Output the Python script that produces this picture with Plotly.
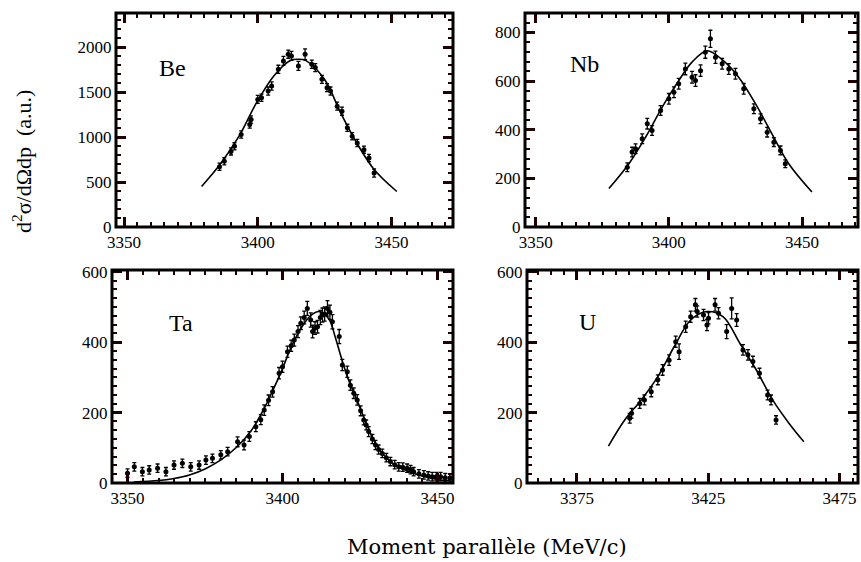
import plotly.graph_objects as go

# ---------------- data ----------------
be_x = [3385.7, 3387.5, 3390.0, 3391.3, 3393.8, 3397.0, 3397.5, 3400.0, 3401.4, 3403.9,
        3405.2, 3407.7, 3409.6, 3411.4, 3412.6, 3415.2, 3417.7, 3420.2, 3421.5, 3424.0,
        3425.9, 3427.2, 3429.7, 3431.5, 3433.5, 3435.3, 3437.2, 3439.7, 3441.6, 3443.5]
be_y = [670, 730, 841, 897, 1028, 1140, 1196, 1419, 1438, 1512,
        1568, 1754, 1847, 1922, 1903, 1791, 1922, 1810, 1773, 1642,
        1550, 1512, 1344, 1288, 1103, 1009, 935, 860, 768, 600]
be_err = [40, 40, 40, 40, 40, 40, 40, 45, 40, 45,
          45, 45, 50, 45, 50, 50, 60, 45, 45, 45,
          45, 45, 45, 45, 40, 40, 40, 40, 40, 45]
be_fit_x = [3379, 3386, 3393, 3399.5, 3406, 3412, 3415, 3418, 3425, 3431, 3437, 3443.5, 3452]
be_fit_y = [450, 700, 1010, 1380, 1680, 1850, 1865, 1850, 1640, 1270, 935, 640, 395]

nb_x = [3384.4, 3386.2, 3387.5, 3390.0, 3391.9, 3393.7, 3396.9, 3400.0, 3401.9, 3403.7,
        3406.2, 3408.7, 3410.0, 3411.9, 3413.7, 3415.6, 3417.5, 3420.0, 3422.5, 3425.0,
        3428.1, 3431.9, 3434.4, 3436.9, 3439.4, 3441.9, 3443.7]
nb_y = [246, 308, 322, 363, 425, 397, 479, 527, 554, 589,
        650, 616, 602, 643, 719, 774, 698, 671, 650, 630,
        568, 486, 445, 390, 349, 315, 260]
nb_err = [18, 20, 20, 20, 22, 20, 20, 22, 22, 22,
          24, 24, 24, 24, 25, 35, 25, 22, 22, 22,
          22, 20, 20, 20, 18, 18, 16]
nb_fit_x = [3377.5, 3385, 3391.3, 3397.5, 3403.7, 3408.7, 3414.4, 3420, 3426.2, 3432.5, 3438.7, 3445, 3453.7]
nb_fit_y = [158, 260, 370, 493, 602, 678, 725, 688, 616, 507, 383, 260, 144]

ta_x = [3350.0, 3352.2, 3354.8, 3357.0, 3359.7, 3362.4, 3365.0, 3367.7, 3370.4, 3373.1,
        3375.3, 3377.4, 3380.1, 3382.3, 3385.5, 3387.6, 3389.3, 3391.4, 3393.0, 3394.1,
        3395.5, 3396.8, 3398.9, 3400.0, 3401.6, 3402.8, 3403.8, 3405.0, 3405.9, 3407.0,
        3408.0, 3409.1, 3409.7, 3410.5, 3411.3, 3412.2, 3412.9, 3413.6, 3414.5, 3415.3,
        3416.1, 3418.3, 3419.3, 3420.9, 3421.9, 3423.0, 3424.1, 3425.2, 3426.2, 3427.0,
        3427.8, 3429.0, 3430.0, 3431.0, 3432.2, 3433.5, 3434.8, 3436.2, 3437.5, 3438.8,
        3440.2, 3441.3, 3442.3, 3444.0, 3445.6, 3447.0, 3448.3, 3449.6, 3451.0, 3452.5,
        3454.0]
ta_y = [28, 46, 32, 37, 42, 32, 51, 56, 46, 51,
        65, 70, 80, 89, 117, 108, 132, 160, 180, 207,
        235, 259, 312, 330, 373, 390, 406, 430, 454, 470,
        496, 463, 430, 440, 444, 470, 477, 480, 496, 485,
        458, 416, 335, 316, 278, 255, 236, 205, 179, 165,
        146, 125, 108, 95, 84, 72, 61, 52, 46, 45,
        42, 38, 32, 26, 23, 20, 18, 18, 18, 15,
        14]
ta_err = [12, 12, 12, 12, 12, 12, 12, 12, 12, 12,
          12, 12, 12, 12, 14, 14, 14, 14, 14, 15,
          15, 15, 16, 16, 16, 16, 17, 17, 18, 18,
          20, 20, 18, 18, 18, 20, 20, 20, 22, 20,
          20, 20, 16, 16, 15, 15, 15, 14, 14, 14,
          14, 13, 13, 13, 12, 12, 12, 12, 12, 12,
          12, 12, 12, 12, 12, 12, 12, 12, 12, 12,
          12]
ta_fit_x = [3352, 3360, 3365, 3370, 3375, 3380, 3385, 3390, 3394, 3397, 3400, 3403, 3406, 3409,
            3412, 3415, 3417, 3419, 3421, 3424, 3427, 3430, 3433, 3436, 3440, 3445, 3450, 3455]
ta_fit_y = [3, 7, 13, 23, 40, 65, 100, 150, 210, 265, 325, 390, 440, 475,
            487, 465, 415, 355, 300, 236, 170, 112, 76, 52, 35, 20, 10, 5]

u_x = [3395.1, 3395.8, 3398.9, 3400.7, 3403.3, 3405.8, 3407.6, 3410.1, 3412.6, 3413.9,
       3416.4, 3418.3, 3420.1, 3420.8, 3423.2, 3424.5, 3425.1, 3427.6, 3428.9, 3432.0,
       3433.9, 3435.8, 3438.2, 3440.1, 3442.0, 3444.5, 3447.6, 3448.9, 3450.8]
u_y = [184, 198, 226, 236, 259, 293, 321, 349, 401, 373,
       444, 472, 506, 487, 477, 449, 468, 506, 482, 430,
       496, 463, 378, 364, 345, 312, 250, 236, 179]
u_err = [14, 14, 14, 14, 14, 14, 15, 15, 16, 22,
         16, 16, 18, 16, 16, 16, 16, 18, 16, 20,
         30, 18, 15, 15, 15, 14, 14, 14, 12]
u_fit_x = [3387, 3393.2, 3399.5, 3405.8, 3412, 3418.3, 3424.5, 3430.7, 3437, 3443.3, 3449.5, 3455.7, 3461.4]
u_fit_y = [105, 179, 236, 302, 387, 463, 487, 472, 397, 321, 236, 170, 117]

labels = ["Be", "Nb", "Ta", "U"]
x_tick0 = [3350, 3350, 3350, 3375]
x_dtick = 50
y_dtick = [500, 200, 200, 200]
y_minor = [100, 40, 25, 25]

# ---------------- figure ----------------
W, H = 861, 562
SERIF = "Liberation Serif"
TICKC = "#200000"

def dom_x(a, b):
    return [a / W, b / W]

def dom_y(top, bottom):
    return [1 - bottom / H, 1 - top / H]

panels = [
    (be_x, be_y, be_err, be_fit_x, be_fit_y, dom_x(116, 453), dom_y(13, 227), [3347, 3473], [0, 2380], (172, 68)),
    (nb_x, nb_y, nb_err, nb_fit_x, nb_fit_y, dom_x(525, 858), dom_y(13, 227), [3346, 3471], [0, 880], (584, 64)),
    (ta_x, ta_y, ta_err, ta_fit_x, ta_fit_y, dom_x(112, 453), dom_y(270, 483), [3345, 3455], [0, 605], (181, 323)),
    (u_x, u_y, u_err, u_fit_x, u_fit_y, dom_x(527, 858), dom_y(270, 483), [3356, 3482], [0, 605], (587, 322)),
]

fig = go.Figure()
layout = dict(
    template="none",
    width=W, height=H,
    margin=dict(l=0, r=0, t=0, b=0),
    paper_bgcolor="white", plot_bgcolor="white",
    showlegend=False,
    font=dict(family=SERIF, size=17, color="black"),
)
annotations = []
shapes = []

for i, (xs, ys, err, fx, fy, xd, yd, xr, yr, lpos) in enumerate(panels):
    n = "" if i == 0 else str(i + 1)
    xa, ya = "x" + n, "y" + n
    fig.add_trace(go.Scatter(x=fx, y=fy, mode="lines", line=dict(color="black", width=1.6, shape="spline"),
                             xaxis=xa, yaxis=ya, hoverinfo="skip"))
    fig.add_trace(go.Scatter(x=xs, y=ys, mode="markers",
                             marker=dict(color="black", size=5, symbol="circle"),
                             error_y=dict(type="data", array=err, color="black", thickness=1.3, width=2),
                             xaxis=xa, yaxis=ya))
    common = dict(showline=True, linewidth=1, linecolor="black", mirror="allticks",
                  ticks="inside", ticklen=10, tickwidth=2.5, tickcolor=TICKC,
                  showgrid=False, zeroline=False)
    layout["xaxis" + n] = dict(common, domain=xd, range=xr, anchor=ya,
                               tickmode="linear", tick0=x_tick0[i], dtick=x_dtick,
                               minor=dict(tickmode="linear", ticks="inside", ticklen=5, tickwidth=1.5,
                                          tickcolor=TICKC, dtick=5, tick0=3350, showgrid=False))
    layout["yaxis" + n] = dict(common, domain=yd, range=yr, anchor=xa,
                               tickmode="linear", tick0=0, dtick=y_dtick[i],
                               minor=dict(tickmode="linear", ticks="inside", ticklen=5, tickwidth=1.5,
                                          tickcolor=TICKC, dtick=y_minor[i], tick0=0, showgrid=False))
    shapes.append(dict(type="rect", xref=xa + " domain", yref=ya + " domain", x0=0, x1=1, y0=0, y1=1,
                       line=dict(color="black", width=3), layer="above"))
    annotations.append(dict(text=labels[i], x=lpos[0] / W, y=1 - lpos[1] / H, xref="paper", yref="paper",
                            showarrow=False, font=dict(family=SERIF, size=24, color="black"),
                            xanchor="center", yanchor="middle"))

annotations.append(dict(text="d<sup>2</sup>σ/dΩdp\u00a0\u00a0(a.u.)", x=22 / W, y=1 - 162 / H,
                        xref="paper", yref="paper", showarrow=False, textangle=-90,
                        font=dict(family=SERIF, size=22, color="black"),
                        xanchor="center", yanchor="middle"))
annotations.append(dict(text="Moment parallèle (MeV/c)", x=487 / W, y=1 - 547 / H,
                        xref="paper", yref="paper", showarrow=False,
                        font=dict(family="DejaVu Serif", size=21, color="black"),
                        xanchor="center", yanchor="middle"))
layout["annotations"] = annotations
layout["shapes"] = shapes
fig.update_layout(**layout)

fig.write_html("out.html", config={"displayModeBar": False},
               post_script="document.body.style.margin='0';")
